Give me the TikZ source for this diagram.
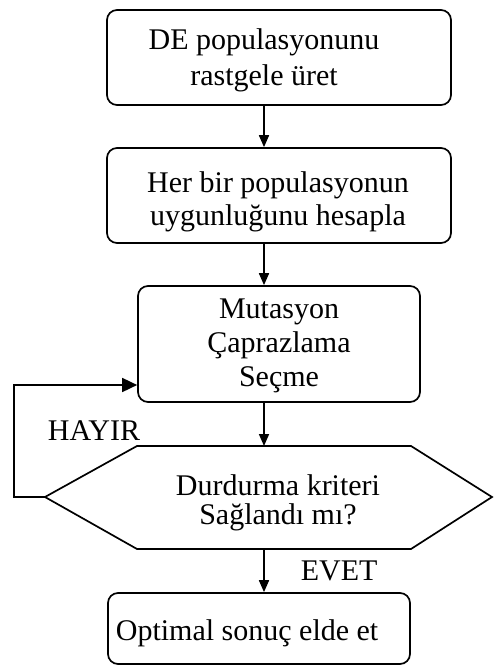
\documentclass[tikz,border=0pt]{standalone}
\usepackage{fontspec}
\setmainfont{Liberation Serif}
\usetikzlibrary{arrows.meta}
\begin{document}
\begin{tikzpicture}[x=1pt,y=-1pt,
  line width=1.7pt,
  box/.style={draw, rounded corners=10pt, inner sep=0pt},
  txt/.style={font=\fontsize{30}{35}\selectfont, align=center, inner sep=0pt},
  lbl/.style={font=\fontsize{30}{35}\selectfont, inner sep=0pt},
  arr/.style={-{Triangle[length=12pt,width=10pt]}},
  bigarr/.style={-{Triangle[length=15pt,width=14pt]}}]
\useasboundingbox (0,0) rectangle (493,666);

% process boxes
\node[box, minimum width=344pt, minimum height=95pt] (b1) at (279,57.5) {};
\node[txt, font=\fontsize{30}{36}\selectfont] (t1) at (264,60) {DE populasyonunu\\rastgele üret};

\node[box, minimum width=344pt, minimum height=95pt] (b2) at (279,195.5) {};
\node[txt, font=\fontsize{30}{33}\selectfont] (t2) at (278,202) {Her bir populasyonun\\uygunluğunu hesapla};

\node[box, minimum width=282pt, minimum height=116pt] (b3) at (279,344) {};
\node[txt, font=\fontsize{30}{34}\selectfont] (t3) at (279,346) {Mutasyon\\Çaprazlama\\Seçme};

% decision hexagon
\coordinate (hl) at (45,497);
\coordinate (htl) at (137,446);
\coordinate (htr) at (411,446);
\coordinate (hr) at (492,497);
\coordinate (hbr) at (411,549);
\coordinate (hbl) at (137,549);
\draw (hl) -- (htl) -- (htr) -- (hr) -- (hbr) -- (hbl) -- cycle;
\node[txt, font=\fontsize{30}{29}\selectfont] (t4) at (278,503) {Durdurma kriteri\\Sağlandı mı?};

% final box
\node[box, minimum width=302pt, minimum height=71pt] (b5) at (259,628.5) {};
\node[lbl, anchor=base west] (t5) at (115,640) {Optimal sonuç elde et};

% branch labels
\node[lbl, anchor=base west] (no) at (47,440) {HAYIR};
\node[lbl, anchor=base west] (yes) at (300,580) {EVET};

% connectors
\coordinate (ax) at (264,0);
\draw[arr] (ax |- b1.south) -- (ax |- b2.north);
\draw[arr] (ax |- b2.south) -- (ax |- b3.north);
\draw[arr] (ax |- b3.south) -- (ax |- htl);
\draw[arr] (ax |- hbl) -- (ax |- b5.north);
\coordinate (lp) at (14,385);
\draw[bigarr] (hl) -- (lp |- hl) -- (lp) -- (b3.west |- lp);
\end{tikzpicture}
\end{document}
